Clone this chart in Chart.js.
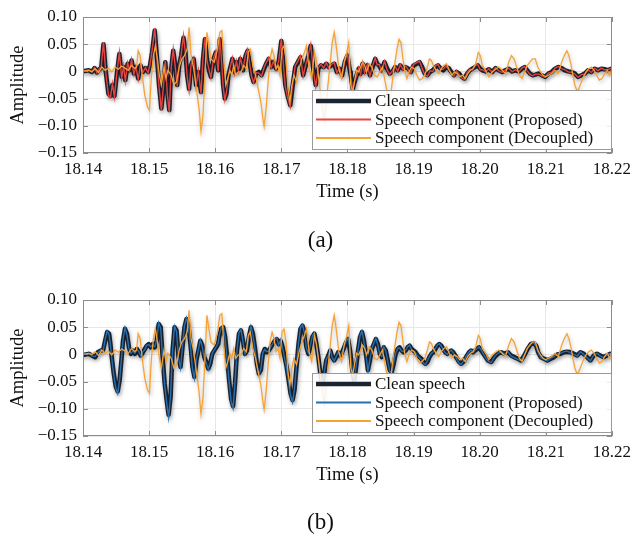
<!DOCTYPE html>
<html lang="en">
<head>
<meta charset="UTF-8">
<title>Clean speech vs. estimated speech components</title>
<script src="https://cdn.jsdelivr.net/npm/chart.js"></script>
<style>
  html, body { margin: 0; padding: 0; background: #fff; overflow: hidden; }
  body { width: 637px; height: 539px; position: relative; font-family: 'Liberation Serif', 'Times New Roman', serif; }
  .panel { position: absolute; left: 0; width: 637px; height: 256px; }
  #wrapA { top: 0; }
  #wrapB { top: 283px; }
  .tag { position: absolute; left: 2px; width: 637px; text-align: center; font-size: 23px; line-height: 26px; color: #111; }
</style>
</head>
<body>
<div class="panel" id="wrapA"><canvas id="chartA" width="637" height="256"></canvas></div>
<div class="panel" id="wrapB"><canvas id="chartB" width="637" height="256"></canvas></div>
<div class="tag" style="top:227px">(a)</div>
<div class="tag" style="top:509px">(b)</div>

<script>
// axis ticks
var xTickValues = [18.14, 18.15, 18.16, 18.17, 18.18, 18.19, 18.20, 18.21, 18.22];
var xTickLabels = ['18.14', '18.15', '18.16', '18.17', '18.18', '18.19', '18.20', '18.21', '18.22'];
var yTickValues = [-0.15, -0.10, -0.05, 0, 0.05, 0.10];
var yTickLabels = ['\u22120.15', '\u22120.10', '\u22120.05', '0', '0.05', '0.10'];
var seriesNames = ['Clean speech', 'Speech component (Proposed)', 'Speech component (Decoupled)'];

// panel (a): time (s), clean speech and proposed estimate
var timeA = [
  18.14000, 18.14085, 18.14135, 18.14175, 18.14210, 18.14245, 18.14275, 18.14310, 18.14345, 18.14385,
  18.14415, 18.14445, 18.14475, 18.14510, 18.14550, 18.14585, 18.14615, 18.14640, 18.14675, 18.14705,
  18.14735, 18.14770, 18.14800, 18.14835, 18.14870, 18.14905, 18.14945, 18.14985, 18.15015, 18.15045,
  18.15085, 18.15120, 18.15150, 18.15185, 18.15215, 18.15245, 18.15275, 18.15305, 18.15335, 18.15365,
  18.15395, 18.15425, 18.15455, 18.15485, 18.15520, 18.15550, 18.15575, 18.15605, 18.15635, 18.15675,
  18.15710, 18.15745, 18.15785, 18.15815, 18.15845, 18.15875, 18.15905, 18.15935, 18.15975, 18.16010,
  18.16045,
  18.16070, 18.16095, 18.16120, 18.16145, 18.16170, 18.16200, 18.16230, 18.16260, 18.16290, 18.16320,
  18.16350, 18.16380, 18.16420, 18.16460, 18.16490, 18.16520, 18.16550, 18.16580, 18.16620, 18.16660,
  18.16700, 18.16740, 18.16770, 18.16810, 18.16845, 18.16880, 18.16920, 18.16960, 18.17000, 18.17030,
  18.17060, 18.17100, 18.17135, 18.17170, 18.17210, 18.17250, 18.17290, 18.17330, 18.17370, 18.17410,
  18.17445, 18.17480, 18.17520, 18.17560, 18.17600, 18.17640, 18.17680, 18.17720, 18.17760, 18.17800,
  18.17840, 18.17880, 18.17920, 18.17960, 18.18000, 18.18040,
  18.18050, 18.18080, 18.18110, 18.18140, 18.18170, 18.18200, 18.18230, 18.18260, 18.18300, 18.18340,
  18.18380, 18.18420, 18.18450, 18.18480, 18.18520, 18.18560, 18.18600, 18.18640, 18.18680, 18.18720,
  18.18760, 18.18800, 18.18840, 18.18880, 18.18920, 18.18960, 18.19000, 18.19050, 18.19090, 18.19130,
  18.19170, 18.19210, 18.19250, 18.19290, 18.19330, 18.19370, 18.19410, 18.19450, 18.19490, 18.19530,
  18.19570, 18.19610, 18.19650, 18.19690, 18.19730, 18.19770, 18.19810, 18.19850, 18.19890, 18.19930,
  18.19970, 18.20010,
  18.20040, 18.20090, 18.20140, 18.20190, 18.20240, 18.20290, 18.20340, 18.20390, 18.20440, 18.20490,
  18.20540, 18.20590, 18.20640, 18.20680, 18.20720, 18.20760, 18.20800, 18.20840, 18.20890, 18.20940,
  18.20990, 18.21040, 18.21090, 18.21140, 18.21190, 18.21240, 18.21290, 18.21340, 18.21390, 18.21440,
  18.21490, 18.21540, 18.21590, 18.21640, 18.21690, 18.21740, 18.21790, 18.21840, 18.21890, 18.21940,
  18.21990, 18.22000
];
var cleanA = [
  0.000, 0.002, -0.001, 0.006, -0.002, 0.004, 0.006, 0.050, -0.001, -0.041,
  -0.045, -0.025, -0.045, -0.007, 0.032, -0.010, 0.008, -0.016, 0.014, 0.002,
  0.020, -0.004, 0.008, -0.013, 0.011, -0.001, 0.006, -0.001, 0.012, 0.035,
  0.075, 0.023, -0.025, -0.068, -0.032, 0.017, -0.038, -0.071, 0.005, 0.038,
  0.011, -0.025, 0.011, 0.029, 0.062, 0.035, -0.007, -0.032, 0.011, 0.023,
  -0.025, -0.001, -0.038, 0.023, 0.059, 0.023, 0.002, -0.010, 0.023, 0.035,
  0.002,
  0.059, 0.023, -0.025, -0.050, -0.041, -0.007, 0.008, 0.023, -0.001, 0.017,
  0.002, 0.023, 0.002, 0.029, 0.038, 0.017, -0.007, -0.019, -0.004, -0.001,
  -0.007, 0.005, 0.014, 0.023, 0.008, 0.017, 0.005, 0.017, 0.056, 0.017,
  -0.025, -0.047, -0.062, -0.028, 0.008, 0.017, 0.026, -0.007, 0.011, 0.029,
  0.047, 0.008, -0.025, 0.005, 0.011, 0.008, 0.014, 0.008, 0.011, 0.014,
  -0.001, 0.005, -0.007, 0.017, 0.029, -0.001,
  -0.007, -0.032, -0.019, -0.007, 0.005, -0.004, 0.014, -0.001, 0.011, -0.007,
  0.008, 0.023, 0.014, 0.011, 0.002, 0.017, 0.005, -0.004, -0.001, 0.008,
  0.002, 0.011, 0.005, 0.008, 0.005, -0.001, 0.011, 0.014, 0.017, 0.008,
  -0.004, -0.007, -0.001, 0.002, 0.008, 0.011, 0.005, 0.002, 0.008, 0.006,
  -0.001, -0.007, -0.001, -0.004, -0.010, -0.013, -0.004, 0.002, 0.005, 0.008,
  0.011, 0.005,
  0.002, 0.000, 0.004, -0.001, 0.006, 0.002, -0.001, 0.002, 0.005, 0.000,
  0.002, 0.000, 0.005, 0.008, 0.002, -0.004, -0.007, -0.006, -0.004, -0.007,
  -0.010, -0.004, -0.001, 0.005, 0.008, 0.006, 0.002, 0.000, -0.001, -0.004,
  -0.010, -0.007, -0.004, 0.002, -0.001, 0.005, 0.002, 0.005, 0.004, 0.002,
  0.005, 0.004
];
var proposedA = [
  0.001, 0.003, -0.002, 0.007, -0.003, 0.005, 0.008, 0.054, -0.003, -0.044,
  -0.048, -0.022, -0.047, -0.005, 0.035, -0.012, 0.010, -0.018, 0.016, 0.001,
  0.022, -0.006, 0.009, -0.015, 0.013, -0.002, 0.007, -0.003, 0.014, 0.038,
  0.079, 0.020, -0.028, -0.072, -0.029, 0.019, -0.041, -0.075, 0.008, 0.041,
  0.009, -0.028, 0.013, 0.031, 0.066, 0.032, -0.009, -0.035, 0.013, 0.025,
  -0.028, 0.001, -0.041, 0.026, 0.062, 0.020, 0.004, -0.012, 0.025, 0.038,
  0.000,
  0.062, 0.020, -0.028, -0.053, -0.038, -0.009, 0.010, 0.025, -0.003, 0.019,
  0.000, 0.025, 0.004, 0.031, 0.041, 0.015, -0.009, -0.021, -0.002, -0.003,
  -0.009, 0.007, 0.016, 0.025, 0.006, 0.019, 0.003, 0.019, 0.060, 0.014,
  -0.028, -0.050, -0.065, -0.025, 0.010, 0.019, 0.029, -0.009, 0.013, 0.031,
  0.050, 0.006, -0.028, 0.007, 0.013, 0.006, 0.016, 0.006, 0.013, 0.016,
  -0.003, 0.007, -0.009, 0.019, 0.032, -0.003,
  -0.009, -0.035, -0.017, -0.009, 0.007, -0.006, 0.016, -0.003, 0.013, -0.009,
  0.010, 0.025, 0.012, 0.013, 0.000, 0.019, 0.003, -0.006, 0.001, 0.010,
  0.000, 0.013, 0.003, 0.010, 0.003, -0.003, 0.013, 0.016, 0.019, 0.006,
  -0.006, -0.009, 0.001, 0.000, 0.010, 0.013, 0.003, 0.004, 0.010, 0.004,
  -0.003, -0.009, 0.001, -0.006, -0.012, -0.015, -0.002, 0.004, 0.003, 0.010,
  0.013, 0.003,
  0.003, -0.001, 0.005, -0.002, 0.007, 0.001, -0.002, 0.003, 0.006, -0.001,
  0.003, -0.001, 0.006, 0.009, 0.001, -0.005, -0.008, -0.005, -0.005, -0.008,
  -0.011, -0.003, -0.002, 0.006, 0.009, 0.005, 0.003, -0.001, -0.002, -0.005,
  -0.011, -0.006, -0.005, 0.003, -0.002, 0.006, 0.001, 0.006, 0.003, 0.003,
  0.006, 0.004
];

// panel (b): time (s), clean speech and proposed estimate
var timeB = [
  18.14000, 18.14085, 18.14135, 18.14185, 18.14225, 18.14265, 18.14305, 18.14335, 18.14365, 18.14395,
  18.14415, 18.14435, 18.14465, 18.14495, 18.14525, 18.14555, 18.14585, 18.14605, 18.14635, 18.14665,
  18.14695, 18.14725, 18.14755, 18.14785, 18.14815, 18.14845, 18.14875, 18.14905, 18.14935, 18.14965,
  18.14995, 18.15025, 18.15055, 18.15085, 18.15115, 18.15145, 18.15175, 18.15205, 18.15235, 18.15265,
  18.15295, 18.15325, 18.15355, 18.15385, 18.15415, 18.15445, 18.15475, 18.15505, 18.15535, 18.15565,
  18.15595, 18.15625, 18.15655, 18.15685, 18.15715, 18.15745, 18.15775, 18.15805, 18.15835, 18.15865,
  18.15895, 18.15925, 18.15955, 18.15985, 18.16015, 18.16045,
  18.16060, 18.16090, 18.16120, 18.16150, 18.16180, 18.16210, 18.16240, 18.16270, 18.16300, 18.16330,
  18.16360, 18.16390, 18.16420, 18.16450, 18.16480, 18.16510, 18.16540, 18.16570, 18.16600, 18.16630,
  18.16660, 18.16690, 18.16720, 18.16750, 18.16780, 18.16810, 18.16840, 18.16870, 18.16900, 18.16930,
  18.16960, 18.16990, 18.17020, 18.17050, 18.17080, 18.17110, 18.17140, 18.17170, 18.17200, 18.17230,
  18.17260, 18.17290, 18.17320, 18.17350, 18.17380, 18.17410, 18.17440, 18.17470, 18.17500, 18.17530,
  18.17560, 18.17590, 18.17620, 18.17650, 18.17680, 18.17710, 18.17740, 18.17770, 18.17800, 18.17830,
  18.17860, 18.17890, 18.17920, 18.17950, 18.17980, 18.18010,
  18.18040, 18.18070, 18.18100, 18.18130, 18.18160, 18.18190, 18.18220, 18.18250, 18.18280, 18.18310,
  18.18340, 18.18370, 18.18400, 18.18430, 18.18460, 18.18490, 18.18520, 18.18550, 18.18580, 18.18610,
  18.18640, 18.18670, 18.18700, 18.18730, 18.18760, 18.18790, 18.18820, 18.18850, 18.18880, 18.18910,
  18.18940, 18.18970, 18.19000, 18.19030, 18.19060, 18.19090, 18.19120, 18.19150, 18.19180, 18.19210,
  18.19240, 18.19270, 18.19300, 18.19330, 18.19360, 18.19390, 18.19420, 18.19450, 18.19480, 18.19510,
  18.19540, 18.19570, 18.19600, 18.19630, 18.19660, 18.19690, 18.19720, 18.19750, 18.19780, 18.19810,
  18.19840, 18.19870, 18.19900, 18.19930, 18.19960, 18.19990,
  18.20025, 18.20075, 18.20125, 18.20175, 18.20225, 18.20275, 18.20325, 18.20375, 18.20425, 18.20475,
  18.20525, 18.20575, 18.20625, 18.20675, 18.20725, 18.20775, 18.20815, 18.20855, 18.20885, 18.20925,
  18.20975, 18.21025, 18.21075, 18.21125, 18.21175, 18.21225, 18.21275, 18.21325, 18.21375, 18.21425,
  18.21475, 18.21525, 18.21575, 18.21625, 18.21675, 18.21725, 18.21775, 18.21825, 18.21875, 18.21925,
  18.21975, 18.22000
];
var cleanB = [
  -0.001, 0.001, -0.002, -0.005, 0.004, 0.007, 0.008, 0.025, 0.041, 0.038,
  0.019, -0.005, -0.035, -0.059, -0.068, -0.047, -0.005, 0.025, 0.047, 0.038,
  0.013, 0.001, 0.007, 0.001, 0.010, 0.004, -0.002, 0.004, 0.010, 0.016,
  0.019, 0.013, 0.019, 0.013, 0.025, 0.056, 0.050, -0.005, -0.053, -0.084,
  -0.111, -0.078, 0.007, 0.050, 0.044, -0.005, -0.023, 0.013, 0.050, 0.065,
  0.053, 0.019, -0.023, -0.041, -0.011, 0.007, 0.025, 0.016, -0.005, -0.014,
  -0.026, -0.017, 0.001, 0.007, 0.013, 0.019,
  0.032, 0.047, 0.050, 0.032, -0.005, -0.047, -0.082, -0.095, -0.053, 0.007,
  0.038, 0.044, 0.025, 0.001, 0.007, 0.032, 0.050, 0.038, 0.013, -0.017,
  -0.035, -0.029, 0.001, 0.010, 0.004, 0.007, 0.013, 0.019, 0.025, 0.028,
  0.019, 0.025, 0.013, -0.005, -0.023, -0.047, -0.072, -0.084, -0.065, -0.023,
  0.019, 0.047, 0.053, 0.041, 0.013, 0.001, 0.016, 0.032, 0.038, 0.019,
  -0.005, -0.035, -0.053, -0.035, -0.011, -0.002, 0.007, -0.005, -0.011, -0.005,
  0.004, -0.002, 0.004, 0.013, 0.022, 0.028,
  0.007, -0.025, -0.048, -0.025, 0.007, 0.032, 0.041, 0.025, 0.001, -0.029,
  -0.011, 0.010, 0.019, 0.028, 0.019, 0.001, -0.005, 0.013, 0.007, -0.011,
  -0.029, -0.032, -0.017, 0.001, 0.010, 0.013, 0.007, 0.004, 0.007, 0.013,
  0.016, 0.010, 0.007, 0.004, -0.002, -0.005, -0.008, -0.014, -0.017, -0.014,
  -0.005, 0.001, 0.004, 0.010, 0.016, 0.019, 0.016, 0.010, 0.004, 0.001,
  0.004, 0.007, 0.004, -0.002, -0.008, -0.014, -0.017, -0.014, -0.008, -0.002,
  0.004, 0.007, 0.004, 0.007, 0.010, 0.013,
  0.007, -0.002, -0.011, -0.014, -0.005, 0.001, 0.004, 0.001, 0.004, -0.002,
  -0.005, -0.008, -0.011, -0.002, 0.010, 0.019, 0.021, 0.016, 0.004, -0.005,
  -0.008, -0.011, -0.008, -0.005, 0.000, 0.001, 0.004, 0.005, 0.004, 0.001,
  -0.002, 0.004, 0.001, -0.005, -0.011, -0.002, 0.001, -0.002, -0.005, -0.002,
  0.001, 0.000
];
var proposedB = [
  0.000, 0.002, -0.003, -0.004, 0.003, 0.008, 0.007, 0.027, 0.043, 0.036,
  0.017, -0.007, -0.037, -0.062, -0.072, -0.045, -0.003, 0.027, 0.049, 0.036,
  0.011, 0.002, 0.006, 0.002, 0.009, 0.005, -0.003, 0.005, 0.009, 0.017,
  0.018, 0.014, 0.018, 0.014, 0.027, 0.058, 0.048, -0.008, -0.056, -0.088,
  -0.116, -0.075, 0.009, 0.052, 0.042, -0.007, -0.025, 0.015, 0.052, 0.067,
  0.051, 0.017, -0.026, -0.044, -0.009, 0.008, 0.027, 0.014, -0.007, -0.016,
  -0.028, -0.015, 0.002, 0.008, 0.014, 0.021,
  0.034, 0.049, 0.052, 0.030, -0.008, -0.050, -0.086, -0.099, -0.050, 0.009,
  0.040, 0.046, 0.023, 0.000, 0.009, 0.034, 0.052, 0.036, 0.011, -0.019,
  -0.038, -0.027, 0.003, 0.009, 0.005, 0.006, 0.014, 0.020, 0.027, 0.030,
  0.017, 0.027, 0.011, -0.007, -0.026, -0.050, -0.076, -0.088, -0.062, -0.020,
  0.021, 0.049, 0.055, 0.039, 0.011, 0.002, 0.017, 0.034, 0.040, 0.017,
  -0.008, -0.038, -0.056, -0.033, -0.009, -0.003, 0.008, -0.006, -0.012, -0.004,
  0.005, -0.003, 0.005, 0.014, 0.024, 0.030,
  0.009, -0.027, -0.051, -0.023, 0.009, 0.034, 0.043, 0.023, 0.000, -0.031,
  -0.009, 0.011, 0.021, 0.030, 0.017, 0.000, -0.004, 0.014, 0.006, -0.013,
  -0.031, -0.034, -0.015, 0.002, 0.011, 0.012, 0.006, 0.005, 0.008, 0.014,
  0.017, 0.009, 0.006, 0.003, -0.003, -0.006, -0.010, -0.016, -0.019, -0.012,
  -0.004, 0.002, 0.005, 0.011, 0.017, 0.020, 0.015, 0.009, 0.003, 0.000,
  0.005, 0.008, 0.003, -0.003, -0.010, -0.016, -0.019, -0.013, -0.007, -0.001,
  0.005, 0.008, 0.003, 0.008, 0.011, 0.014,
  0.008, -0.003, -0.012, -0.015, -0.004, 0.002, 0.005, 0.000, 0.005, -0.003,
  -0.006, -0.009, -0.012, -0.001, 0.011, 0.020, 0.022, 0.015, 0.003, -0.006,
  -0.009, -0.012, -0.007, -0.004, 0.001, 0.002, 0.005, 0.006, 0.003, 0.000,
  -0.003, 0.005, 0.000, -0.006, -0.012, -0.001, 0.002, -0.003, -0.006, -0.001,
  0.002, 0.001
];

// decoupled estimate (same in both panels)
var timeDecoupled = [
  18.14000,
  18.14085, 18.14135, 18.14185, 18.14235, 18.14285, 18.14335, 18.14385, 18.14435, 18.14485, 18.14535,
  18.14585, 18.14635, 18.14685, 18.14735, 18.14785, 18.14810, 18.14835, 18.14865, 18.14895, 18.14935,
  18.14975, 18.15005, 18.15035, 18.15065, 18.15095, 18.15125, 18.15155, 18.15185, 18.15225, 18.15255,
  18.15285, 18.15335, 18.15375, 18.15415, 18.15455, 18.15495, 18.15535, 18.15575, 18.15605, 18.15635,
  18.15675, 18.15715, 18.15755, 18.15785, 18.15815, 18.15845, 18.15875, 18.15905, 18.15935, 18.15985,
  18.16035,
  18.16070, 18.16100, 18.16130, 18.16160, 18.16190, 18.16220, 18.16250, 18.16280, 18.16310, 18.16350,
  18.16390, 18.16430, 18.16470, 18.16500, 18.16530, 18.16570, 18.16610, 18.16650, 18.16690, 18.16720,
  18.16740, 18.16770, 18.16800, 18.16830, 18.16860, 18.16890, 18.16920, 18.16950, 18.16980, 18.17010,
  18.17040, 18.17070, 18.17100, 18.17130, 18.17160, 18.17190, 18.17230, 18.17270, 18.17310, 18.17350,
  18.17380, 18.17420, 18.17460, 18.17500, 18.17530, 18.17560, 18.17590, 18.17620, 18.17650, 18.17680,
  18.17710, 18.17740, 18.17770, 18.17800, 18.17830, 18.17870, 18.17910, 18.17950, 18.17990, 18.18020,
  18.18050, 18.18080, 18.18110, 18.18140, 18.18170, 18.18200, 18.18230, 18.18260, 18.18290, 18.18330,
  18.18370, 18.18410, 18.18450, 18.18490, 18.18530, 18.18570, 18.18600, 18.18630, 18.18660, 18.18690,
  18.18720, 18.18750, 18.18780, 18.18810, 18.18840, 18.18870, 18.18900, 18.18930, 18.18970, 18.19010,
  18.19050, 18.19090, 18.19130, 18.19170, 18.19210, 18.19240, 18.19270, 18.19300, 18.19340, 18.19380,
  18.19420, 18.19460, 18.19500, 18.19540, 18.19580, 18.19620, 18.19660, 18.19700, 18.19740, 18.19780,
  18.19820, 18.19860, 18.19900, 18.19940, 18.19980, 18.20010,
  18.20040, 18.20090, 18.20140, 18.20190, 18.20240, 18.20290, 18.20340, 18.20390, 18.20440, 18.20480,
  18.20520, 18.20560, 18.20600, 18.20640, 18.20680, 18.20720, 18.20760, 18.20800, 18.20840, 18.20880,
  18.20920, 18.20960, 18.21000, 18.21040, 18.21090, 18.21140, 18.21190, 18.21240, 18.21280, 18.21320,
  18.21350, 18.21380, 18.21410, 18.21440, 18.21470, 18.21500, 18.21530, 18.21570, 18.21610, 18.21650,
  18.21690, 18.21730, 18.21770, 18.21810, 18.21850, 18.21890, 18.21930, 18.21965, 18.21990, 18.22000
];
var decoupled = [
  0.000,
  0.002, 0.000, 0.005, -0.002, 0.008, 0.002, 0.006, -0.001, 0.008, 0.004,
  0.010, 0.006, 0.002, 0.011, 0.005, 0.008, 0.038, 0.029, -0.007, -0.044,
  -0.065, -0.071, -0.007, 0.029, 0.047, 0.023, -0.007, -0.025, 0.008, -0.013,
  0.002, -0.007, -0.025, -0.019, 0.008, 0.023, 0.029, 0.041, 0.081, 0.029,
  0.005, -0.032, -0.068, -0.110, -0.080, -0.007, 0.072, 0.047, 0.023, 0.017,
  0.041,
  0.072, 0.075, 0.017, -0.025, -0.013, 0.002, -0.007, 0.011, -0.007, -0.001,
  -0.001, 0.011, 0.005, 0.035, 0.041, 0.011, -0.007, -0.032, -0.056, -0.086,
  -0.101, -0.068, -0.019, 0.023, 0.041, 0.029, 0.005, 0.011, -0.007, 0.041,
  0.047, 0.023, -0.032, -0.056, -0.025, -0.007, -0.019, 0.005, 0.023, 0.035,
  0.047, 0.005, -0.013, 0.035, 0.020, -0.007, -0.038, -0.068, -0.092, -0.056,
  -0.019, 0.017, 0.053, 0.072, 0.047, 0.005, -0.013, 0.017, 0.035, 0.053,
  -0.025, -0.038, -0.016, 0.002, -0.001, 0.008, 0.017, 0.011, -0.001, 0.014,
  0.008, -0.007, -0.010, -0.001, 0.008, -0.019, -0.038, -0.062, -0.038, -0.007,
  0.017, 0.041, 0.059, 0.053, 0.023, -0.001, -0.013, -0.001, 0.008, 0.005,
  -0.007, -0.016, -0.013, -0.007, 0.008, 0.023, 0.020, 0.011, 0.002, -0.004,
  0.005, 0.011, 0.014, 0.002, -0.007, -0.001, -0.004, -0.010, -0.007, -0.013,
  -0.004, 0.002, 0.005, 0.014, 0.035, 0.029,
  0.011, 0.002, -0.010, -0.001, 0.004, 0.008, 0.002, -0.004, 0.017, 0.029,
  0.023, 0.008, -0.007, -0.013, -0.001, 0.011, 0.017, 0.023, 0.023, 0.008,
  -0.001, -0.007, -0.010, -0.007, -0.004, 0.002, -0.004, 0.017, 0.029, 0.038,
  0.029, 0.014, -0.007, -0.025, -0.035, -0.032, -0.022, -0.010, -0.001, 0.005,
  0.008, 0.002, -0.007, -0.016, -0.013, -0.004, 0.002, -0.007, 0.002, 0.003
];

function pairUp(t, v) {
  var n = Math.min(t.length, v.length);
  var pts = [];
  for (var i = 0; i < n; i++) pts.push({ x: t[i], y: v[i] });
  return pts;
}

Chart.defaults.font.family = "'Liberation Serif', 'Times New Roman', serif";
Chart.defaults.color = '#111';

// soft grey shadow under the traces
var lineShadow = {
  id: 'lineShadow',
  beforeDatasetDraw: function (chart) {
    var c = chart.ctx;
    c.save();
    c.shadowColor = 'rgba(0,0,0,0.28)';
    c.shadowBlur = 4;
    c.shadowOffsetX = 1;
    c.shadowOffsetY = 2;
  },
  afterDatasetDraw: function (chart) { chart.ctx.restore(); }
};

// box round the axes with inward ticks on all sides
var frame = {
  id: 'frame',
  afterDatasetsDraw: function (chart) {
    var ctx = chart.ctx, a = chart.chartArea, xs = chart.scales.x, ys = chart.scales.y;
    var len = 5;
    ctx.save();
    ctx.strokeStyle = '#8c8c8c';
    ctx.lineWidth = 1;
    ctx.strokeRect(Math.round(a.left) + 0.5, Math.round(a.top) + 0.5,
      Math.round(a.right - a.left) - 1, Math.round(a.bottom - a.top) - 1);
    ctx.beginPath();
    xTickValues.forEach(function (v) {
      var px = Math.round(xs.getPixelForValue(v)) + 0.5;
      ctx.moveTo(px, a.bottom); ctx.lineTo(px, a.bottom - len);
      ctx.moveTo(px, a.top); ctx.lineTo(px, a.top + len);
    });
    yTickValues.forEach(function (v) {
      var py = Math.round(ys.getPixelForValue(v)) + 0.5;
      ctx.moveTo(a.left, py); ctx.lineTo(a.left + len, py);
      ctx.moveTo(a.right, py); ctx.lineTo(a.right - len, py);
    });
    ctx.stroke();
    ctx.restore();
  }
};

// legend box in the lower right corner of the axes
var boxLegend = {
  id: 'boxLegend',
  afterDatasetsDraw: function (chart) {
    var ctx = chart.ctx, a = chart.chartArea;
    var w = 299, h = 59;
    var left = Math.round(a.right) - 1 - w, top = Math.round(a.bottom) - 4 - h;
    ctx.save();
    ctx.fillStyle = 'rgba(255,255,255,0.86)';
    ctx.fillRect(left, top, w, h);
    ctx.strokeStyle = '#9a9a9a';
    ctx.lineWidth = 1;
    ctx.strokeRect(left + 0.5, top + 0.5, w, h);
    ctx.font = "17px 'Liberation Serif'";
    ctx.textBaseline = 'middle';
    chart.data.datasets.forEach(function (ds, i) {
      var yy = top + 11 + i * 18.5;
      ctx.strokeStyle = ds.borderColor;
      ctx.lineWidth = ds.legendWidth;
      ctx.beginPath();
      ctx.moveTo(left + 4, yy);
      ctx.lineTo(left + 59, yy);
      ctx.stroke();
      ctx.fillStyle = '#111';
      ctx.fillText(ds.label, left + 63, yy + 1);
    });
    ctx.restore();
  }
};

function makeChart(id, time, clean, proposed, propColor) {
  var ctx = document.getElementById(id).getContext('2d');
  return new Chart(ctx, {
    type: 'line',
    data: {
      datasets: [
        {
          label: seriesNames[0],
          data: pairUp(time, clean),
          borderColor: '#1c2331',
          borderWidth: 4.5,
          legendWidth: 4.5,
          borderJoinStyle: 'round',
          borderCapStyle: 'round',
          pointRadius: 0,
          order: 3
        },
        {
          label: seriesNames[1],
          data: pairUp(time, proposed),
          borderColor: propColor,
          borderWidth: 1.4,
          legendWidth: 2,
          pointRadius: 0,
          order: 2
        },
        {
          label: seriesNames[2],
          data: pairUp(timeDecoupled, decoupled),
          borderColor: '#f7a234',
          borderWidth: 1.3,
          legendWidth: 2,
          pointRadius: 0,
          order: 1
        }
      ]
    },
    options: {
      responsive: false,
      animation: false,
      events: [],
      layout: { padding: { left: 0, right: 21, top: 17, bottom: 51 } },
      elements: { line: { tension: 0, fill: false } },
      plugins: {
        legend: { display: false },
        tooltip: { enabled: false }
      },
      scales: {
        x: {
          type: 'linear',
          min: 18.14,
          max: 18.22,
          afterBuildTicks: function (scale) {
            scale.ticks = xTickValues.map(function (v) { return { value: v }; });
          },
          afterFit: function (scale) { scale.height = 52; },
          grid: { color: '#e8e8e8', drawTicks: false },
          border: { display: false },
          ticks: {
            autoSkip: false,
            maxRotation: 0,
            padding: 6,
            font: { size: 17 },
            color: '#111',
            callback: function (v, i) { return xTickLabels[i]; }
          },
          title: {
            display: true,
            text: 'Time (s)',
            font: { size: 18.5 },
            color: '#111',
            padding: { top: 0, bottom: 2 }
          }
        },
        y: {
          min: -0.15,
          max: 0.10,
          afterBuildTicks: function (scale) {
            scale.ticks = yTickValues.map(function (v) { return { value: v }; });
          },
          afterFit: function (scale) { scale.width = 83; },
          grid: { color: '#e8e8e8', drawTicks: false },
          border: { display: false },
          ticks: {
            padding: 6,
            font: { size: 17 },
            color: '#111',
            callback: function (v, i) { return yTickLabels[i]; }
          },
          title: {
            display: true,
            text: 'Amplitude',
            font: { size: 18.5 },
            color: '#111',
            padding: { top: 7, bottom: 0 }
          }
        }
      }
    },
    plugins: [lineShadow, frame, boxLegend]
  });
}

var chartA = makeChart('chartA', timeA, cleanA, proposedA, '#e8443f');
var chartB = makeChart('chartB', timeB, cleanB, proposedB, '#2571b2');
</script>
</body>
</html>
